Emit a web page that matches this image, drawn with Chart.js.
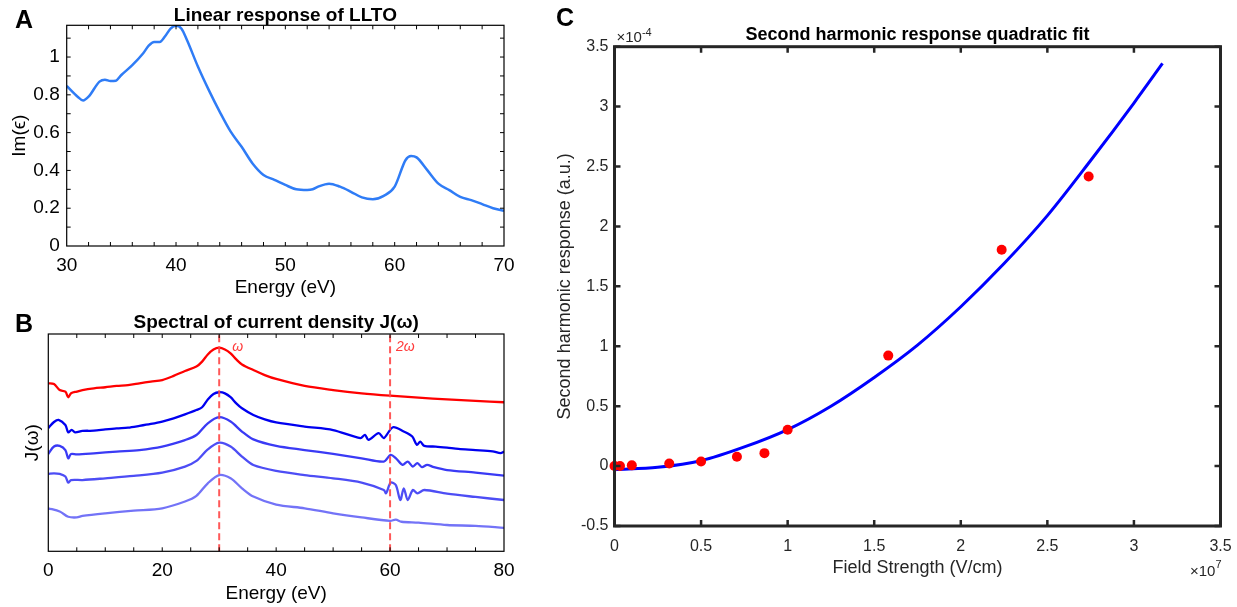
<!DOCTYPE html>
<html>
<head>
<meta charset="utf-8">
<script src="https://cdn.jsdelivr.net/npm/chart.js@4.4.0/dist/chart.umd.min.js"></script>
<style>
  body { margin: 0; background: #fff; width: 1237px; height: 607px; position: relative; overflow: hidden; font-family: "Liberation Sans", Arial, sans-serif; }
  canvas { position: absolute; }
  .panel { position: absolute; font-weight: bold; font-size: 25px; line-height: 25px; color: #000; }
</style>
</head>
<body>
<canvas id="chartA" width="520" height="300" style="left:0px;top:0px"></canvas>
<canvas id="chartB" width="520" height="307" style="left:0px;top:300px"></canvas>
<canvas id="chartC" width="697" height="607" style="left:540px;top:0px"></canvas>
<div class="panel" style="left:15px;top:7px">A</div>
<div class="panel" style="left:15px;top:311px">B</div>
<div class="panel" style="left:556px;top:5px">C</div>
<script>
const FONT = '"Liberation Sans", Arial, Helvetica, sans-serif';

// A: linear response of LLTO
const energyA = [30, 31, 31.5, 32, 33, 33.5, 34, 34.5, 35, 36, 37, 37.5, 38, 38.5, 39, 39.5, 40, 40.5, 41, 42,
  43, 44, 45, 46, 47, 48, 49, 50, 51, 52, 52.5, 53, 54, 55, 56, 57, 58, 59, 60, 61,
  61.5, 62, 63, 64, 65, 66, 67, 68, 69, 70];
const imEps = [0.847, 0.79, 0.77, 0.79, 0.87, 0.88, 0.873, 0.875, 0.905, 0.957, 1.02, 1.06, 1.08, 1.08, 1.11, 1.15, 1.165, 1.15, 1.09, 0.95,
  0.825, 0.71, 0.605, 0.525, 0.437, 0.376, 0.35, 0.323, 0.30, 0.296, 0.30, 0.314, 0.33, 0.314, 0.287, 0.257, 0.247, 0.265, 0.314, 0.455,
  0.476, 0.469, 0.40, 0.33, 0.296, 0.26, 0.243, 0.222, 0.20, 0.187];
const ticksAx = [30, 40, 50, 60, 70];
const ticksAy = [0, 0.2, 0.4, 0.6, 0.8, 1];
const minorAx = [32, 34, 36, 38, 40, 42, 44, 46, 48, 50, 52, 54, 56, 58, 60, 62, 64, 66, 68];
const minorAy = [0.1, 0.2, 0.3, 0.4, 0.5, 0.6, 0.7, 0.8, 0.9, 1, 1.1];

// B: spectra of current density (arbitrary offsets)
const eRed = [0, 1, 2, 3, 3.5, 4, 5, 6, 8, 10, 12, 14, 16, 18, 20, 22, 24, 26, 27, 28, 29, 30, 31, 32, 33, 34, 36, 38, 40, 45, 50, 55, 60, 65, 70, 75, 80];
const jRed = [77.3, 77.0, 74.2, 73.5, 70.9, 72.7, 73.5, 74.2, 75, 75.5, 76.1, 76.5, 77.3, 78.1, 78.8, 80.7, 83, 85, 87.3, 90.6, 92.9, 93.7, 92.9, 91.1, 88.3, 86, 83.4, 81.1, 79.3, 76.1, 74.2, 72.7, 71.6, 70.7, 69.9, 69.2, 68.6];
const eB1 = [0, 1, 1.8, 3, 3.5, 4.1, 4.7, 6, 8, 10, 12, 14, 16, 18, 20, 22, 24, 26, 27, 28, 29, 30, 31, 32, 33, 34, 36, 38, 40, 45,
  50, 54.8, 55.6, 56.2, 58, 58.9, 60.5, 62.4, 63.9, 64.7, 65.3, 66, 68, 70, 72, 75, 78, 79.4, 80];
const jB1 = [56.7, 59.5, 60.5, 58.1, 54.7, 55.9, 54.7, 55.4, 55.5, 56.1, 56.6, 56.9, 57.7, 58.6, 59.7, 61.2, 63, 65, 66.3, 69.9, 72.4, 73.2, 72.7, 70.9, 68.1, 65.8, 62.7, 60.7, 59.3, 57.4,
  55.8, 52.1, 53.6, 51.3, 54.4, 52.1, 57.1, 55.1, 52.8, 49, 50.5, 48.5, 48.2, 47.7, 47.1, 46.6, 46, 45.2, 45.9];
const eB2 = [0, 1, 2, 3, 3.5, 4, 5, 8, 12, 16, 20, 24, 26, 28, 30, 32, 34, 36, 40, 45, 50, 55, 58.9, 60.1, 61, 62.2, 63.1, 64, 64.8, 65.6, 66.5, 67.7, 70, 75, 80];
const jB2 = [44.8, 48.2, 48.5, 46.6, 42.8, 44.8, 44.6, 45.1, 45.9, 46.6, 48.2, 51.2, 53.5, 58.9, 61.7, 59.7, 55.1, 51.5, 48.5, 46.6, 44.8, 42.8, 41.3, 44.4, 42.9, 39.8, 41.3, 39, 40.6, 38.7, 39.8, 38.7, 37.4, 36.2, 34.8];
const eB3 = [0, 1, 2, 3, 3.5, 4, 6, 10, 15, 20, 24, 26, 28, 30, 32, 34, 36, 40, 45, 50, 55, 58.9, 59.3, 60.1, 61, 61.8, 62.4, 63.1, 64, 64.8, 66, 70, 75, 80];
const jB3 = [35.6, 35.9, 35.6, 34.4, 31.6, 32.8, 32.8, 33.6, 34.7, 36.2, 39, 41.6, 46.9, 50, 48.2, 43.6, 39.7, 37, 35.1, 33.6, 31.6, 28.2, 26.7, 31.6, 30.5, 23.6, 29, 23.6, 28.2, 26.7, 28.2, 26.5, 25, 23.6];
const eB4 = [0, 2, 3.5, 5, 6, 10, 15, 20, 24, 26, 28, 30, 32, 34, 36, 40, 45, 50, 55, 60, 61, 62, 65, 70, 75, 80];
const jB4 = [19.8, 18.3, 15.9, 15.6, 16.3, 17.5, 18.7, 19.8, 22.9, 25.5, 31.3, 35.1, 33.6, 29, 25.2, 21.5, 19.8, 17.5, 15.6, 14, 14.6, 13.6, 13.2, 12.1, 11.7, 10.8];
const harmonicE = [30, 60];
const harmonicLbl = ['ω', '2ω'];
const ticksBx = [0, 20, 40, 60, 80];
const minorBx = [5, 10, 15, 20, 25, 30, 35, 40, 45, 50, 55, 60, 65, 70, 75];

// C: second harmonic vs field (x in 1e7 V/cm, y in 1e-4)
const fieldPts = [0, 0.0316, 0.1, 0.3162, 0.5, 0.7071, 0.866, 1, 1.5811, 2.2361, 2.7386];
const shgPts = [0, 0.001, 0.006, 0.022, 0.039, 0.078, 0.108, 0.303, 0.922, 1.806, 2.417];
const fitField = [0, 0.25, 0.5, 0.75, 1, 1.25, 1.5, 1.75, 2, 2.25, 2.5, 2.75, 3, 3.165];
const fitShg = [-0.03, -0.01, 0.045, 0.16, 0.305, 0.50, 0.74, 1.01, 1.33, 1.69, 2.09, 2.55, 3.03, 3.36];
const ticksCx = [0, 0.5, 1, 1.5, 2, 2.5, 3, 3.5];
const ticksCy = [-0.5, 0, 0.5, 1, 1.5, 2, 2.5, 3, 3.5];

const pairs = (xs, ys) => xs.map((v, i) => ({x: v, y: ys[i]}));

// frame, inward ticks and bold title, MATLAB style
const boxPlugin = {
  id: 'box',
  afterDatasetsDraw(chart, args, o) {
    const {ctx, chartArea: a} = chart;
    const x = chart.scales.x, y = chart.scales.y;
    ctx.save();
    ctx.strokeStyle = o.color;
    ctx.lineWidth = o.tickWidth;
    ctx.beginPath();
    o.xTicks.forEach(v => {
      const px = x.getPixelForValue(v);
      ctx.moveTo(px, a.bottom); ctx.lineTo(px, a.bottom - o.len);
      ctx.moveTo(px, a.top); ctx.lineTo(px, a.top + o.len);
    });
    o.yTicks.forEach(v => {
      const py = y.getPixelForValue(v);
      ctx.moveTo(a.left, py); ctx.lineTo(a.left + o.len, py);
      ctx.moveTo(a.right, py); ctx.lineTo(a.right - o.len, py);
    });
    ctx.stroke();
    ctx.lineWidth = o.frameWidth;
    ctx.strokeRect(a.left, a.top, a.right - a.left, a.bottom - a.top);
    ctx.fillStyle = '#000';
    ctx.font = o.titleFont;
    ctx.textAlign = 'center';
    ctx.textBaseline = 'middle';
    ctx.fillText(o.title, (a.left + a.right) / 2, a.top - o.titleGap);
    ctx.restore();
  }
};

function axis(min, max, ticks, opts) {
  const horiz = opts.horiz;
  return {
    type: 'linear', min: min, max: max,
    afterBuildTicks: s => { s.ticks = ticks.map(v => ({value: v})); },
    afterFit: s => {
      if (horiz) { s.height = opts.size; s.paddingLeft = 0; s.paddingRight = 0; }
      else { s.width = opts.size; s.paddingTop = 0; s.paddingBottom = 0; }
    },
    grid: {display: false, drawTicks: false},
    border: {display: false},
    ticks: {
      display: opts.showTicks !== false,
      color: opts.color, padding: opts.pad, maxRotation: 0, autoSkip: false,
      font: {family: FONT, size: opts.fontSize},
      callback: v => String(v)
    },
    title: {
      display: true, text: opts.title, color: opts.color,
      font: {family: FONT, size: opts.titleSize},
      padding: horiz ? {top: 0, bottom: opts.titlePad} : {top: opts.titlePad, bottom: 0}
    }
  };
}

const base = {
  responsive: false,
  animation: false,
  events: [],
  plugins: {legend: {display: false}, tooltip: {enabled: false}}
};

// Panel A
new Chart(document.getElementById('chartA'), {
  type: 'line',
  data: {datasets: [{
    data: pairs(energyA, imEps),
    borderColor: '#2f7cf6', borderWidth: 2.5, pointRadius: 0,
    cubicInterpolationMode: 'monotone'
  }]},
  options: Object.assign({}, base, {
    layout: {padding: {top: 25.3, right: 16, left: 0, bottom: 0}},
    plugins: Object.assign({}, base.plugins, {
      box: {xTicks: minorAx, yTicks: minorAy, color: '#000', tickWidth: 1, frameWidth: 1.2, len: 4,
        title: 'Linear response of LLTO', titleFont: 'bold 19px ' + FONT, titleGap: 10}
    }),
    scales: {
      x: axis(30, 70, ticksAx, {horiz: true, size: 54, color: '#000', pad: 8, fontSize: 19, title: 'Energy (eV)', titleSize: 19, titlePad: 1}),
      y: axis(0, 1.168, ticksAy, {horiz: false, size: 66.7, color: '#000', pad: 7, fontSize: 19, title: 'Im(ϵ)', titleSize: 19, titlePad: 8})
    }
  }),
  plugins: [boxPlugin]
});

// Panel B
const bLine = (xs, ys, color) => ({
  data: pairs(xs, ys), borderColor: color, borderWidth: 2.3, pointRadius: 0, tension: 0.3
});
const harmLines = harmonicE.map(e => ({
  data: [{x: e, y: 0}, {x: e, y: 100}],
  borderColor: 'rgba(255,70,70,0.9)', borderWidth: 2, borderDash: [7, 4], pointRadius: 0
}));
const harmPlugin = {
  id: 'harm',
  afterDatasetsDraw(chart) {
    const {ctx, chartArea: a} = chart;
    ctx.save();
    ctx.fillStyle = '#ff3b3b';
    ctx.font = 'italic 14px ' + FONT;
    ctx.textAlign = 'left';
    ctx.textBaseline = 'middle';
    harmonicE.forEach((e, i) => {
      const px = chart.scales.x.getPixelForValue(e);
      ctx.fillText(harmonicLbl[i], px + (i === 0 ? 13 : 6), a.top + 13);
    });
    ctx.restore();
  }
};
new Chart(document.getElementById('chartB'), {
  type: 'line',
  data: {datasets: harmLines.concat([
    bLine(eRed, jRed, '#ff0000'),
    bLine(eB1, jB1, '#0000f0'),
    bLine(eB2, jB2, '#3a3af5'),
    bLine(eB3, jB3, '#4d4df5'),
    bLine(eB4, jB4, '#7373f7')
  ])},
  options: Object.assign({}, base, {
    layout: {padding: {top: 34, right: 16, left: 0, bottom: 0}},
    plugins: Object.assign({}, base.plugins, {
      box: {xTicks: minorBx, yTicks: [], color: '#000', tickWidth: 1, frameWidth: 1.2, len: 4,
        title: 'Spectral of current density J(ω)', titleFont: 'bold 19px ' + FONT, titleGap: 11}
    }),
    scales: {
      x: axis(0, 80, ticksBx, {horiz: true, size: 55.7, color: '#000', pad: 8, fontSize: 19, title: 'Energy (eV)', titleSize: 19, titlePad: 2}),
      y: axis(0, 100, [], {horiz: false, size: 48.3, color: '#000', pad: 4, fontSize: 19, showTicks: false, title: 'J(ω)', titleSize: 19, titlePad: 21})
    }
  }),
  plugins: [boxPlugin, harmPlugin]
});

// Panel C
const expPlugin = {
  id: 'exp',
  afterDraw(chart) {
    const {ctx, chartArea: a} = chart;
    ctx.save();
    ctx.fillStyle = '#262626';
    ctx.textBaseline = 'middle';
    ctx.textAlign = 'left';
    ctx.font = '15px ' + FONT;
    ctx.fillText('×10', a.left + 2, a.top - 9);
    const w = ctx.measureText('×10').width;
    ctx.font = '11px ' + FONT;
    ctx.fillText('-4', a.left + 2 + w, a.top - 14);
    ctx.textAlign = 'right';
    ctx.fillText('7', a.right + 1, a.bottom + 39);
    const w7 = ctx.measureText('7').width;
    ctx.font = '15px ' + FONT;
    ctx.fillText('×10', a.right + 1 - w7, a.bottom + 45.5);
    ctx.restore();
  }
};
new Chart(document.getElementById('chartC'), {
  type: 'scatter',
  data: {datasets: [
    {data: pairs(fieldPts, shgPts), backgroundColor: '#ff0000', borderWidth: 0, pointRadius: 5, clip: false},
    {data: pairs(fitField, fitShg), showLine: true, borderColor: '#0000ff', borderWidth: 3, pointRadius: 0,
      cubicInterpolationMode: 'monotone'}
  ]},
  options: Object.assign({}, base, {
    layout: {padding: {top: 46.7, right: 16.5, left: 0, bottom: 0}},
    plugins: Object.assign({}, base.plugins, {
      box: {xTicks: ticksCx, yTicks: ticksCy, color: '#262626', tickWidth: 2.5, frameWidth: 3, len: 6,
        title: 'Second harmonic response quadratic fit', titleFont: 'bold 18px ' + FONT, titleGap: 11.7}
    }),
    scales: {
      x: axis(0, 3.5, ticksCx, {horiz: true, size: 81, color: '#262626', pad: 11, fontSize: 16, title: 'Field Strength (V/cm)', titleSize: 18, titlePad: 28}),
      y: axis(-0.5, 3.5, ticksCy, {horiz: false, size: 74.5, color: '#262626', pad: 6, fontSize: 16, title: 'Second harmonic response (a.u.)', titleSize: 18, titlePad: 14})
    }
  }),
  plugins: [boxPlugin, expPlugin]
});
</script>
</body>
</html>
